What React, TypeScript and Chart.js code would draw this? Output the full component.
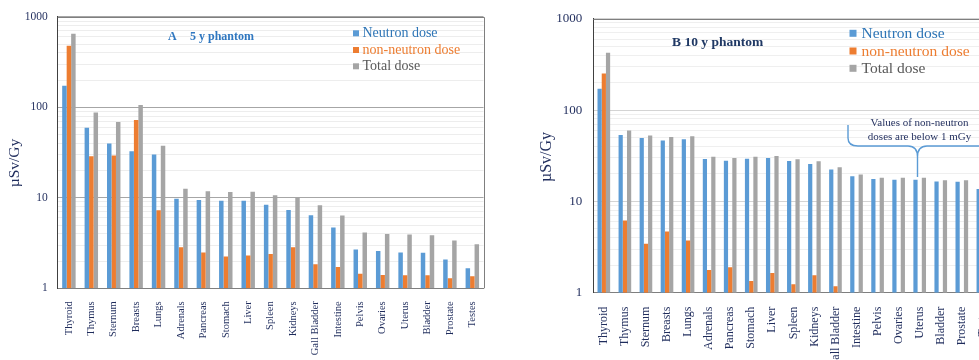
import React, { useEffect, useRef } from 'react';
import { Chart, registerables } from 'chart.js';

Chart.register(...registerables);

// Organs on the x axis (same order in both panels)
const organs = [
  'Thyroid', 'Thymus', 'Sternum', 'Breasts', 'Lungs', 'Adrenals', 'Pancreas', 'Stomach',
  'Liver', 'Spleen', 'Kidneys', 'Gall Bladder', 'Intestine', 'Pelvis', 'Ovaries', 'Uterus',
  'Bladder', 'Prostate', 'Testes',
];

// Panel A: 5 y phantom (µSv/Gy)
const neutronA = [173, 59.7, 39.8, 32.7, 30.1, 9.8, 9.46, 9.3, 9.3, 8.4, 7.35, 6.4, 4.7, 2.69, 2.58, 2.49, 2.47, 2.08, 1.67];
const nonNeutronA = [479, 28.8, 29.4, 72.6, 7.3, 2.85, 2.49, 2.25, 2.31, 2.39, 2.85, 1.85, 1.72, 1.45, 1.4, 1.39, 1.39, 1.29, 1.36];
const totalA = [653, 88, 69, 106, 37.6, 12.6, 11.8, 11.6, 11.7, 10.7, 10.2, 8.27, 6.37, 4.14, 3.99, 3.93, 3.86, 3.38, 3.07];

// Panel B: 10 y phantom (µSv/Gy); non-neutron doses below 1 are left empty
const neutronB = [171, 53.5, 49.6, 46.5, 48, 29.1, 27.9, 29.3, 29.9, 27.7, 25.7, 22.3, 18.9, 17.6, 17.3, 17.3, 16.5, 16.4, 13.7];
const nonNeutronB = [252, 6.17, 3.44, 4.69, 3.74, 1.77, 1.9, 1.34, 1.64, 1.24, 1.55, 1.18, null, null, null, null, null, null, null];
const totalB = [424, 59.7, 52.7, 50.9, 51.8, 30.8, 29.9, 30.8, 31.4, 28.9, 27.5, 23.6, 19.7, 18.2, 18.1, 18.2, 17.1, 17.1, 14.3];

// Log axis: labelled decades and the minor grid values between them
const decadeTicks = [1, 10, 100, 1000];
const gridValues: number[] = [];
for (const d of [1, 10, 100]) for (let k = 1; k < 10; k++) gridValues.push(k * d);
gridValues.push(1000);

const seriesNames = ['Neutron dose', 'non-neutron dose', 'Total dose'];

const SERIF = '"Liberation Serif", "Times New Roman", serif';
const NAVY = '#1f2c5c';
const BAR_COLORS = ['#5b9bd5', '#ed7d31', '#a5a5a5'];
const LEGEND_TEXT = ['#2e75b6', '#ed7d31', '#595959'];

type Spec = {
  left: number;
  width: number;
  padTop: number;
  padRight: number;
  yAxisWidth: number;
  xAxisHeight: number;
  xFont: number;
  xPad: number;
  yFont: number;
  yPad: number;
  majorGrid: string;
  minorGrid: string;
  data: (number | null)[][];
  yTitle: { x: number; y: number; size: number };
  title: { parts: { text: string; x: number }[]; y: number; size: number; color: string };
  legend: { sqX: number; sq: number; textX: number; rows: number[]; size: number };
  note: boolean;
};

const specA: Spec = {
  left: 0,
  width: 490,
  padTop: 16,
  padRight: 3,
  yAxisWidth: 57.7,
  xAxisHeight: 71.7,
  xFont: 10.5,
  xPad: 5,
  yFont: 11.5,
  yPad: 10,
  majorGrid: '#a6a6a6',
  minorGrid: '#ededed',
  data: [neutronA, nonNeutronA, totalA],
  yTitle: { x: 15, y: 163, size: 15.5 },
  title: { parts: [{ text: 'A', x: 168 }, { text: '5 y phantom', x: 190 }], y: 37, size: 12, color: '#2f77c0' },
  legend: { sqX: 353, sq: 6, textX: 362.5, rows: [33.3, 50, 66.3], size: 14 },
  note: false,
};

const specB: Spec = {
  left: 490,
  width: 520,
  padTop: 16.7,
  padRight: 16.6,
  yAxisWidth: 103.3,
  xAxisHeight: 67.3,
  xFont: 12,
  xPad: 6,
  yFont: 13,
  yPad: 11,
  majorGrid: '#d4d4d4',
  minorGrid: '#efefef',
  data: [neutronB, nonNeutronB, totalB],
  yTitle: { x: 547, y: 157, size: 16 },
  title: { parts: [{ text: 'B 10 y phantom', x: 672 }], y: 43, size: 13.5, color: '#1f3864' },
  legend: { sqX: 849.5, sq: 7, textX: 861.5, rows: [33.3, 51, 68.3], size: 15.5 },
  note: true,
};

function makeDecor(spec: Spec) {
  const ox = spec.left;
  return {
    id: 'panelDecor',
    afterDraw(chart: Chart) {
      const { ctx, chartArea: a } = chart;
      ctx.save();

      // plot-area frame (top and right edges)
      ctx.strokeStyle = '#7f7f7f';
      ctx.lineWidth = 1;
      ctx.beginPath();
      ctx.moveTo(a.left, Math.round(a.top) + 0.5);
      ctx.lineTo(Math.round(a.right) + 0.5, Math.round(a.top) + 0.5);
      ctx.lineTo(Math.round(a.right) + 0.5, a.bottom);
      ctx.stroke();

      // y-axis title
      ctx.save();
      ctx.translate(spec.yTitle.x - ox, spec.yTitle.y);
      ctx.rotate(-Math.PI / 2);
      ctx.fillStyle = NAVY;
      ctx.font = `${spec.yTitle.size}px ${SERIF}`;
      ctx.textAlign = 'center';
      ctx.textBaseline = 'middle';
      ctx.fillText('µSv/Gy', 0, 0);
      ctx.restore();

      // panel title
      ctx.fillStyle = spec.title.color;
      ctx.font = `bold ${spec.title.size}px ${SERIF}`;
      ctx.textAlign = 'left';
      ctx.textBaseline = 'middle';
      for (const p of spec.title.parts) ctx.fillText(p.text, p.x - ox, spec.title.y);

      // legend
      const lg = spec.legend;
      ctx.font = `${lg.size}px ${SERIF}`;
      seriesNames.forEach((name, i) => {
        const y = lg.rows[i];
        ctx.fillStyle = BAR_COLORS[i];
        ctx.fillRect(lg.sqX - ox, y - lg.sq / 2, lg.sq, lg.sq);
        ctx.fillStyle = LEGEND_TEXT[i];
        ctx.fillText(name, lg.textX - ox, y + 0.5);
      });

      // note with brace over the organs lacking non-neutron bars
      if (spec.note) {
        ctx.fillStyle = NAVY;
        ctx.font = `11px ${SERIF}`;
        ctx.textAlign = 'center';
        ctx.fillText('Values of non-neutron', 919.5 - ox, 122.7);
        ctx.fillText('doses are below 1 mGy', 919.5 - ox, 136.7);

        ctx.strokeStyle = '#5b9bd5';
        ctx.lineWidth = 1.4;
        ctx.beginPath();
        ctx.moveTo(848 - ox, 125);
        ctx.lineTo(848 - ox, 138);
        ctx.bezierCurveTo(848 - ox, 143, 851 - ox, 146, 858 - ox, 146);
        ctx.lineTo(908 - ox, 146);
        ctx.bezierCurveTo(915 - ox, 146, 917.5 - ox, 150, 917.5 - ox, 157);
        ctx.lineTo(917.5 - ox, 177);
        ctx.moveTo(917.5 - ox, 157);
        ctx.bezierCurveTo(917.5 - ox, 150, 920 - ox, 146, 927 - ox, 146);
        ctx.lineTo(1000 - ox, 146);
        ctx.stroke();
      }
      ctx.restore();
    },
  };
}

function Panel({ spec }: { spec: Spec }) {
  const ref = useRef<HTMLCanvasElement>(null);

  useEffect(() => {
    const chart = new Chart(ref.current!, {
      type: 'bar',
      data: {
        labels: organs,
        datasets: seriesNames.map((name, i) => ({
          label: name,
          data: spec.data[i] as any,
          backgroundColor: BAR_COLORS[i],
          categoryPercentage: 0.6,
          barPercentage: 1,
        })),
      },
      options: {
        animation: false,
        responsive: false,
        maintainAspectRatio: false,
        layout: { padding: { top: spec.padTop, right: spec.padRight, left: 0, bottom: 0 } },
        plugins: { legend: { display: false }, tooltip: { enabled: false }, title: { display: false } },
        scales: {
          x: {
            grid: { display: false },
            border: { display: true, color: '#7f7f7f' },
            ticks: {
              autoSkip: false,
              minRotation: 90,
              maxRotation: 90,
              padding: spec.xPad,
              color: NAVY,
              font: { family: SERIF, size: spec.xFont },
            },
            afterFit: (s: any) => {
              s.height = spec.xAxisHeight;
            },
          },
          y: {
            type: 'logarithmic',
            min: 1,
            max: 1000,
            afterBuildTicks: (s: any) => {
              s.ticks = gridValues.map((v) => ({ value: v }));
            },
            ticks: {
              autoSkip: false,
              padding: spec.yPad,
              color: NAVY,
              font: { family: SERIF, size: spec.yFont },
              callback: (v: any) => (decadeTicks.includes(Number(v)) ? String(v) : ''),
            },
            grid: {
              drawTicks: false,
              color: (c: any) => (decadeTicks.includes(c.tick?.value) ? spec.majorGrid : spec.minorGrid),
            },
            border: { display: true, color: '#404040' },
            afterFit: (s: any) => {
              s.width = spec.yAxisWidth;
            },
          },
        },
      },
      plugins: [makeDecor(spec)],
    } as any);
    return () => chart.destroy();
  }, [spec]);

  return (
    <canvas
      ref={ref}
      width={spec.width}
      height={360}
      style={{ position: 'absolute', left: spec.left, top: 0, width: spec.width, height: 360 }}
    />
  );
}

export default function App() {
  return (
    <div
      style={{
        position: 'fixed',
        left: 0,
        top: 0,
        width: 979,
        height: 360,
        overflow: 'hidden',
        background: '#ffffff',
      }}
    >
      <Panel spec={specA} />
      <Panel spec={specB} />
    </div>
  );
}
